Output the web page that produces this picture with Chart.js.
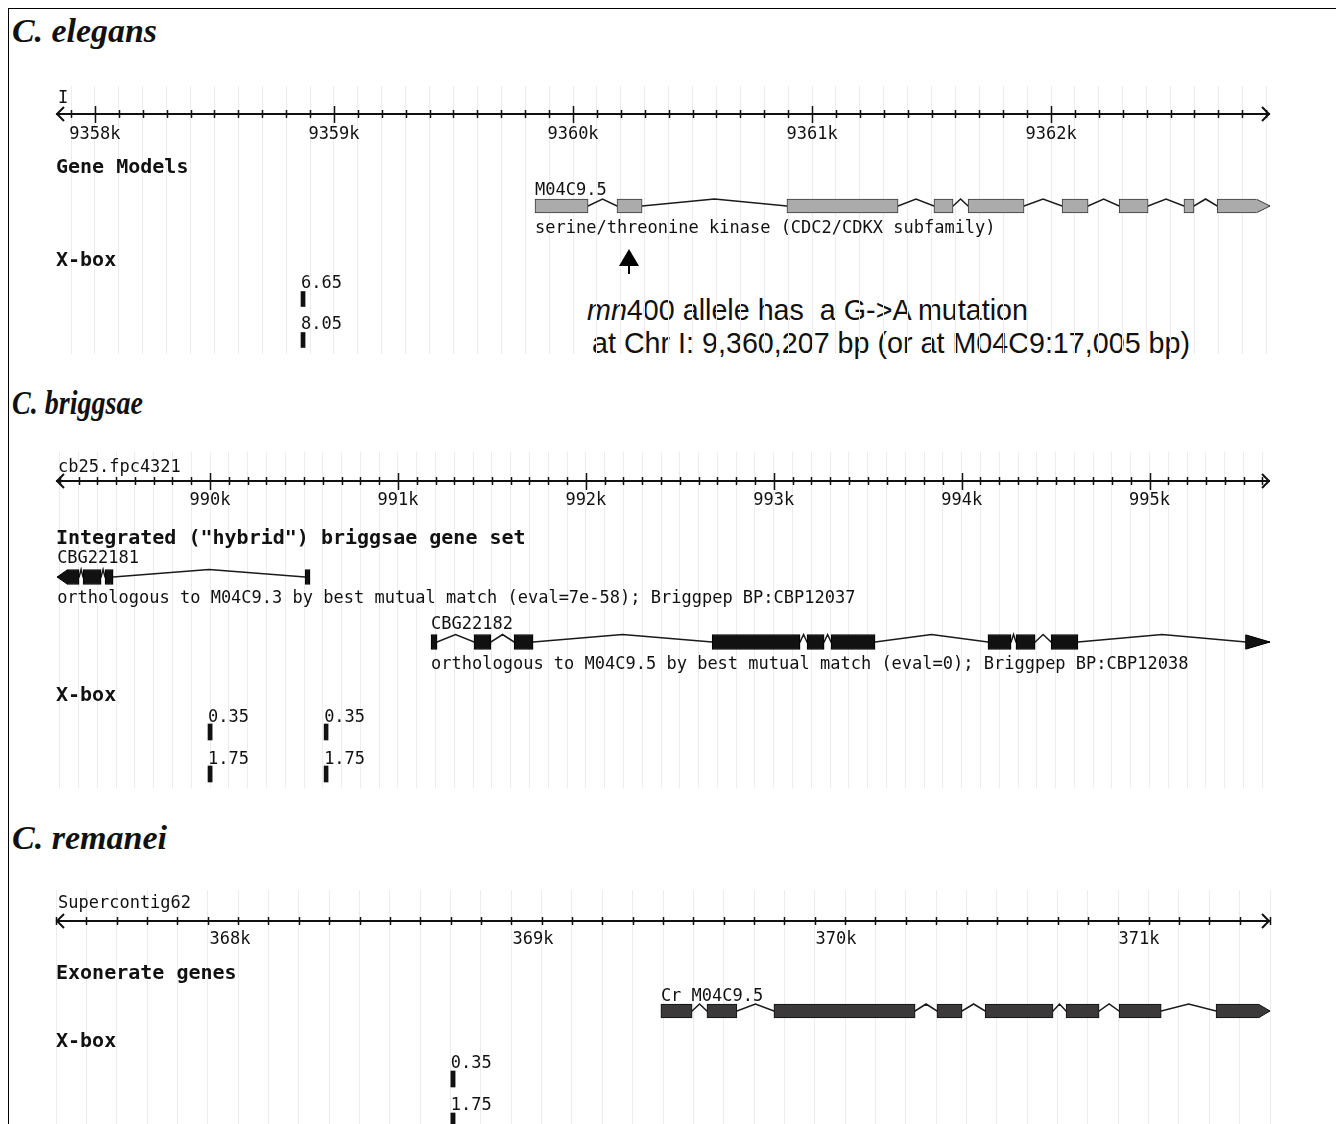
<!DOCTYPE html>
<html>
<head>
<meta charset="utf-8">
<script src="https://cdn.jsdelivr.net/npm/chart.js@4.4.1/dist/chart.umd.min.js"></script>
<style>
  body { margin: 0; background: #fff; width: 1336px; height: 1124px; overflow: hidden; position: relative; }
  #frame { position: absolute; left: 8px; top: 8px; right: 0; bottom: 0; border-left: 1px solid #000; border-top: 1px solid #000; }
  .species { position: absolute; left: 12px; font: italic bold 34px "Liberation Serif", serif; line-height: 34px; color: #111; white-space: nowrap; transform-origin: 0 0; }
  .note { position: absolute; font: 28.7px "Liberation Sans", Arial, sans-serif; line-height: 33px; color: #111; white-space: pre; }
  canvas { position: absolute; left: 0; }
</style>
</head>
<body>
<div id="frame"></div>

<div class="species" style="top:14px" data-w="145">C. elegans</div>
<div class="species" style="top:386px" data-w="131">C. briggsae</div>
<div class="species" style="top:821px" data-w="155">C. remanei</div>

<div class="note" style="left:587px; top:294px"><i>mn</i>400 allele has  a G-&gt;A mutation</div>
<div class="note" style="left:592px; top:327px">at Chr I: 9,360,207 bp (or at M04C9:17,005 bp)</div>

<canvas id="p1" width="1336" height="268" style="top:86px"></canvas>
<canvas id="p2" width="1336" height="336" style="top:452px"></canvas>
<canvas id="p3" width="1336" height="234" style="top:890px"></canvas>

<script>
// ---- C. elegans, chromosome I ----
const elegansRange = [9357837, 9362916];
const elegansTickLabels = ['9358k', '9359k', '9360k', '9361k', '9362k'];
const m04c95Starts = [9359841, 9360184, 9360895, 9361510, 9361653, 9362046, 9362285, 9362556, 9362695];
const m04c95Ends   = [9360063, 9360289, 9361360, 9361590, 9361887, 9362155, 9362406, 9362598, 9362916];
const elegansXboxStarts = [9358862];
const elegansXboxEnds   = [9358879];
const elegansXboxScores = [6.65, 8.05];
const mn400Pos = 9360235;

// ---- C. briggsae, cb25.fpc4321 ----
const briggsaeRange = [989180, 995641];
const briggsaeTickLabels = ['990k', '991k', '992k', '993k', '994k', '995k'];
const cbg22181Starts = [989186, 989324, 989441, 990506];
const cbg22181Ends   = [989303, 989420, 989484, 990532];
const cbg22182Starts = [991176, 991405, 991618, 992672, 993177, 993305, 994140, 994289, 994476, 995514];
const cbg22182Ends   = [991208, 991495, 991719, 993140, 993268, 993539, 994263, 994391, 994619, 995641];
const briggsaeXboxStarts = [989989, 990607];
const briggsaeXboxEnds   = [990011, 990628];
const briggsaeXboxScores = [0.35, 1.75];

// ---- C. remanei, Supercontig62 ----
const remaneiRange = [367426, 371432];
const remaneiTickLabels = ['368k', '369k', '370k', '371k'];
const crM04C95Starts = [369422, 369574, 369795, 370333, 370492, 370759, 370934, 371254];
const crM04C95Ends   = [369525, 369673, 370261, 370416, 370716, 370868, 371073, 371432];
const remaneiXboxStarts = [368729];
const remaneiXboxEnds   = [368743];
const remaneiXboxScores = [0.35, 1.75];

const PLOT_LEFT = 56, PLOT_RIGHT = 1270;
const SMALL = '17px "DejaVu Sans Mono", monospace';
const BOLD = 'bold 20px "DejaVu Sans Mono", monospace';
const INK = '#111';
const TEXT_DY = 2.5; // glyphs sit a little high with textBaseline 'middle'

// layout of each panel (pixel rows inside its canvas)
const panels = [
  {
    id: 'p1', height: 268, range: elegansRange, tickLabels: elegansTickLabels, refName: 'I',
    refY: 10, axisY: 28, tickY: 46,
    tracks: [['Gene Models', 79], ['X-box', 172]],
    genes: [{
      name: 'M04C9.5', desc: 'serine/threonine kinase (CDC2/CDKX subfamily)',
      starts: m04c95Starts, ends: m04c95Ends, strand: 1,
      nameY: 102, row: 120, descY: 140, h: 14, tip: 13, fill: '#ababab', stroke: '#3a3a3a'
    }],
    xbox: { starts: elegansXboxStarts, ends: elegansXboxEnds, scores: elegansXboxScores, scoreY: [195, 236], barY: [213, 254], h: 15 },
    mutation: { pos: mn400Pos, tipY: 163, endY: 188 }
  },
  {
    id: 'p2', height: 336, range: briggsaeRange, tickLabels: briggsaeTickLabels, refName: 'cb25.fpc4321',
    refY: 13, axisY: 29, tickY: 46,
    tracks: [['Integrated ("hybrid") briggsae gene set', 84], ['X-box', 241]],
    genes: [{
      name: 'CBG22181', desc: 'orthologous to M04C9.3 by best mutual match (eval=7e-58); Briggpep BP:CBP12037',
      starts: cbg22181Starts, ends: cbg22181Ends, strand: -1,
      nameY: 104, row: 125, descY: 144, h: 15, tip: 10, fill: '#111', stroke: '#000'
    }, {
      name: 'CBG22182', desc: 'orthologous to M04C9.5 by best mutual match (eval=0); Briggpep BP:CBP12038',
      starts: cbg22182Starts, ends: cbg22182Ends, strand: 1,
      nameY: 170, row: 190, descY: 210, h: 15, tip: 24, fill: '#111', stroke: '#000'
    }],
    xbox: { starts: briggsaeXboxStarts, ends: briggsaeXboxEnds, scores: briggsaeXboxScores, scoreY: [263, 305], barY: [280, 322], h: 16 }
  },
  {
    id: 'p3', height: 234, range: remaneiRange, tickLabels: remaneiTickLabels, refName: 'Supercontig62',
    refY: 11, axisY: 31, tickY: 47,
    tracks: [['Exonerate genes', 81], ['X-box', 149]],
    genes: [{
      name: 'Cr_M04C9.5', desc: '',
      starts: crM04C95Starts, ends: crM04C95Ends, strand: 1,
      nameY: 104, row: 121, descY: 0, h: 14, tip: 11, fill: '#3b3939', stroke: '#111'
    }],
    xbox: { starts: remaneiXboxStarts, ends: remaneiXboxEnds, scores: remaneiXboxScores, scoreY: [171, 213], barY: [189, 231], h: 16 }
  }
];

function bpPerPx(p) { return (p.range[1] - p.range[0]) / (PLOT_RIGHT - PLOT_LEFT); }

function geneDatasets(p, g) {
  const tipBp = g.tip * bpPerPx(p);
  const n = g.starts.length;
  const bars = [];
  const line = [];
  g.starts.forEach((s, i) => {
    let a = s, b = g.ends[i];
    if (g.strand > 0 && i === n - 1) b -= tipBp;     // pointed end drawn by the plugin
    if (g.strand < 0 && i === 0) a += tipBp;
    if (b > a) bars.push({ x: [a, b], y: g.row });
    line.push({ x: s, y: g.row }, { x: g.ends[i], y: g.row });
    if (i < n - 1) line.push({ x: (g.ends[i] + g.starts[i + 1]) / 2, y: g.row - g.h / 2 });
  });
  return [
    { type: 'bar', indexAxis: 'y', data: bars, backgroundColor: g.fill, borderColor: g.stroke,
      borderWidth: 1, borderSkipped: false, barThickness: g.h, grouped: false, order: 0 },
    { type: 'line', data: line, borderColor: '#1a1a1a', borderWidth: 1.5, pointRadius: 0,
      tension: 0, fill: false, order: 1 }
  ];
}

function xboxDataset(p) {
  const xb = p.xbox, bars = [];
  xb.barY.forEach(row => xb.starts.forEach((s, i) => bars.push({ x: [s, xb.ends[i]], y: row })));
  return { type: 'bar', indexAxis: 'y', data: bars, backgroundColor: '#111', borderWidth: 0,
    barThickness: xb.h, grouped: false, order: 0 };
}

function genomePlugin(p) {
  return {
    id: 'genome',
    afterDatasetsDraw(chart) {
      const ctx = chart.ctx;
      const X = v => chart.scales.x.getPixelForValue(v);
      const Y = v => chart.scales.y.getPixelForValue(v);
      const T = v => Y(v) + TEXT_DY;
      ctx.save();

      // pointed ends of the gene models
      p.genes.forEach(g => {
        const n = g.starts.length;
        const cy = Y(g.row), hh = g.h / 2;
        let tipX, baseX;
        if (g.strand > 0) {
          tipX = X(g.ends[n - 1]);
          baseX = Math.max(X(g.starts[n - 1]), tipX - g.tip);
        } else {
          tipX = X(g.starts[0]);
          baseX = Math.min(X(g.ends[0]), tipX + g.tip);
        }
        ctx.beginPath();
        ctx.moveTo(baseX - g.strand, cy - hh);
        ctx.lineTo(tipX, cy);
        ctx.lineTo(baseX - g.strand, cy + hh);
        ctx.closePath();
        ctx.fillStyle = g.fill;
        ctx.fill();
        ctx.beginPath();
        ctx.moveTo(baseX, cy - hh + 0.5);
        ctx.lineTo(tipX, cy);
        ctx.lineTo(baseX, cy + hh - 0.5);
        ctx.strokeStyle = g.stroke;
        ctx.lineWidth = 1;
        ctx.stroke();
      });

      // ruler
      const ay = Math.round(Y(p.axisY));
      const x0 = X(p.range[0]), x1 = X(p.range[1]);
      ctx.strokeStyle = '#111';
      ctx.lineWidth = 2;
      ctx.beginPath();
      ctx.moveTo(x0, ay); ctx.lineTo(x1, ay);
      ctx.moveTo(x0 + 8, ay - 7); ctx.lineTo(x0 + 1, ay); ctx.lineTo(x0 + 8, ay + 7);
      ctx.moveTo(x1 - 8, ay - 7); ctx.lineTo(x1 - 1, ay); ctx.lineTo(x1 - 8, ay + 7);
      ctx.stroke();
      ctx.lineWidth = 1.5;
      ctx.beginPath();
      chart.scales.x.ticks.forEach(t => {
        const tx = Math.round(X(t.value)) + 0.5;
        const major = t.value % 1000 === 0;
        ctx.moveTo(tx, ay - (major ? 8 : 4));
        ctx.lineTo(tx, ay + (major ? 9 : 4));
      });
      ctx.stroke();

      ctx.fillStyle = INK;
      ctx.textBaseline = 'middle';
      ctx.font = SMALL;
      ctx.textAlign = 'center';
      p.tickLabels.forEach(lab => ctx.fillText(lab, X(parseFloat(lab) * 1000), T(p.tickY)));
      ctx.textAlign = 'left';
      ctx.fillText(p.refName, PLOT_LEFT + 2, T(p.refY));

      // track titles
      ctx.font = BOLD;
      p.tracks.forEach(([label, ty]) => ctx.fillText(label, PLOT_LEFT, T(ty)));

      // gene names and notes
      ctx.font = SMALL;
      p.genes.forEach(g => {
        const gx = Math.max(PLOT_LEFT, X(g.starts[0]));
        ctx.fillText(g.name, gx, T(g.nameY));
        if (g.desc) ctx.fillText(g.desc, gx, T(g.descY));
      });

      // X-box scores
      p.xbox.scores.forEach((sc, r) => {
        p.xbox.starts.forEach(s => ctx.fillText(sc.toFixed(2), X(s), T(p.xbox.scoreY[r])));
      });

      // mutation marker
      if (p.mutation) {
        const m = p.mutation, mx = Math.round(X(m.pos));
        ctx.fillStyle = '#000';
        ctx.beginPath();
        ctx.moveTo(mx, Y(m.tipY));
        ctx.lineTo(mx + 10, Y(m.tipY) + 17);
        ctx.lineTo(mx - 10, Y(m.tipY) + 17);
        ctx.closePath();
        ctx.fill();
        ctx.fillRect(mx - 1, Y(m.tipY) + 16, 2, Y(m.endY) - Y(m.tipY) - 16);
      }
      ctx.restore();
    }
  };
}

panels.forEach(p => {
  const datasets = [];
  p.genes.forEach(g => datasets.push(...geneDatasets(p, g)));
  datasets.push(xboxDataset(p));
  new Chart(document.getElementById(p.id), {
    type: 'bar',
    data: { datasets },
    options: {
      responsive: false,
      devicePixelRatio: 1,
      animation: false,
      events: [],
      layout: { autoPadding: false, padding: { left: PLOT_LEFT, right: 1336 - PLOT_RIGHT, top: 0, bottom: 0 } },
      plugins: { legend: { display: false }, tooltip: { enabled: false } },
      scales: {
        x: {
          type: 'linear', min: p.range[0], max: p.range[1], offset: false,
          ticks: { display: false, stepSize: 100, includeBounds: false },
          grid: { color: '#ececec', lineWidth: 1, drawTicks: false, offset: false },
          border: { display: false }
        },
        y: { type: 'linear', min: 0, max: p.height, reverse: true, display: false, offset: false, grid: { offset: false } }
      }
    },
    plugins: [genomePlugin(p)]
  });
});

// squeeze species titles to the widths in the figure
document.querySelectorAll('.species').forEach(el => {
  const w = el.getBoundingClientRect().width;
  el.style.transform = 'scaleX(' + (parseFloat(el.dataset.w) / w) + ')';
});
</script>
</body>
</html>
